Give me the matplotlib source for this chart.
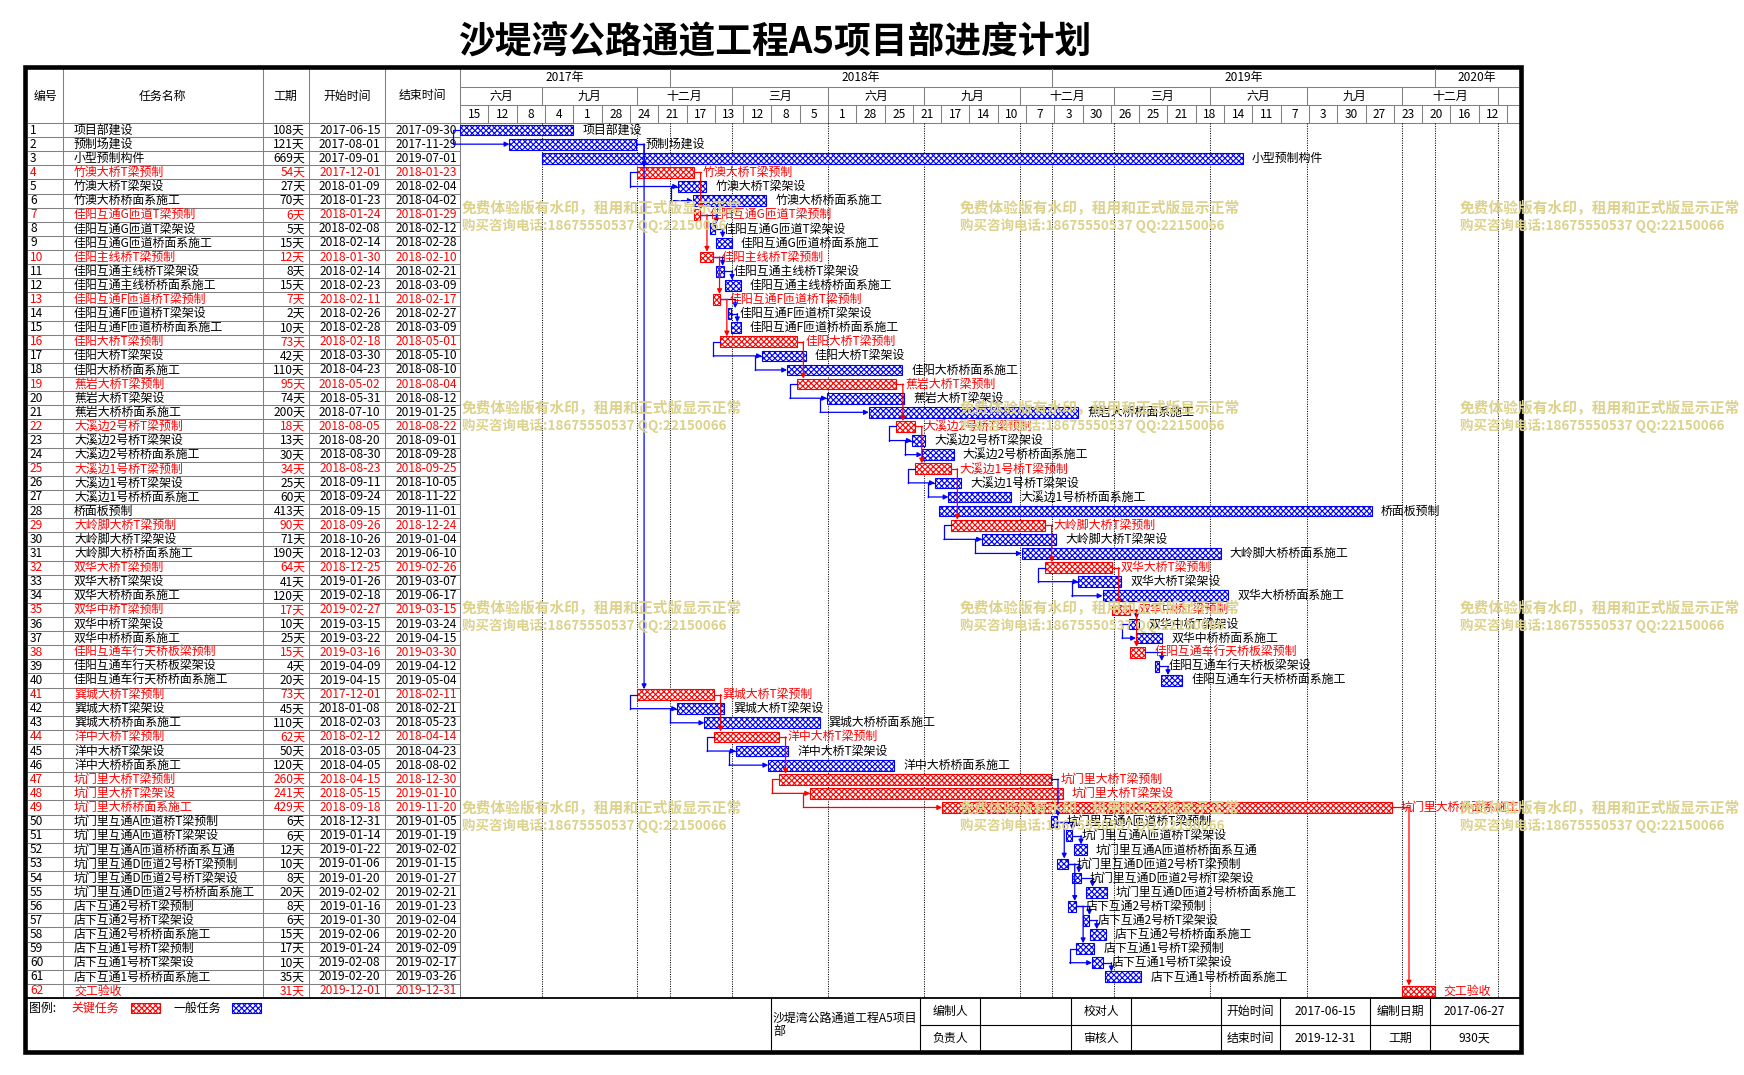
import datetime as dt
import matplotlib
matplotlib.use("Agg")
import matplotlib.pyplot as plt
import matplotlib.dates as mdates
from matplotlib.patches import Rectangle

plt.rcParams['font.family'] = ['Noto Sans CJK SC', 'DejaVu Sans']
plt.rcParams['hatch.linewidth'] = 0.8

# ---------------- data ----------------
TITLE = "沙堤湾公路通道工程A5项目部进度计划"
HEADERS = ["编号", "任务名称", "工期", "开始时间", "结束时间"]

NAMES = [
    "项目部建设", "预制场建设", "小型预制构件", "竹澳大桥T梁预制", "竹澳大桥T梁架设",
    "竹澳大桥桥面系施工", "佳阳互通G匝道T梁预制", "佳阳互通G匝道T梁架设", "佳阳互通G匝道桥面系施工",
    "佳阳主线桥T梁预制", "佳阳互通主线桥T梁架设", "佳阳互通主线桥桥面系施工", "佳阳互通F匝道桥T梁预制",
    "佳阳互通F匝道桥T梁架设", "佳阳互通F匝道桥桥面系施工", "佳阳大桥T梁预制", "佳阳大桥T梁架设",
    "佳阳大桥桥面系施工", "蕉岩大桥T梁预制", "蕉岩大桥T梁架设", "蕉岩大桥桥面系施工",
    "大溪边2号桥T梁预制", "大溪边2号桥T梁架设", "大溪边2号桥桥面系施工", "大溪边1号桥T梁预制",
    "大溪边1号桥T梁架设", "大溪边1号桥桥面系施工", "桥面板预制", "大岭脚大桥T梁预制",
    "大岭脚大桥T梁架设", "大岭脚大桥桥面系施工", "双华大桥T梁预制", "双华大桥T梁架设",
    "双华大桥桥面系施工", "双华中桥T梁预制", "双华中桥T梁架设", "双华中桥桥面系施工",
    "佳阳互通车行天桥板梁预制", "佳阳互通车行天桥板梁架设", "佳阳互通车行天桥桥面系施工",
    "巽城大桥T梁预制", "巽城大桥T梁架设", "巽城大桥桥面系施工", "洋中大桥T梁预制",
    "洋中大桥T梁架设", "洋中大桥桥面系施工", "坑门里大桥T梁预制", "坑门里大桥T梁架设",
    "坑门里大桥桥面系施工", "坑门里互通A匝道桥T梁预制", "坑门里互通A匝道桥T梁架设",
    "坑门里互通A匝道桥桥面系互通", "坑门里互通D匝道2号桥T梁预制", "坑门里互通D匝道2号桥T梁架设",
    "坑门里互通D匝道2号桥桥面系施工", "店下互通2号桥T梁预制", "店下互通2号桥T梁架设",
    "店下互通2号桥桥面系施工", "店下互通1号桥T梁预制", "店下互通1号桥T梁架设",
    "店下互通1号桥桥面系施工", "交工验收",
]
DURATIONS = [108, 121, 669, 54, 27, 70, 6, 5, 15, 12, 8, 15, 7, 2, 10, 73, 42, 110, 95, 74,
             200, 18, 13, 30, 34, 25, 60, 413, 90, 71, 190, 64, 41, 120, 17, 10, 25, 15, 4, 20,
             73, 45, 110, 62, 50, 120, 260, 241, 429, 6, 6, 12, 10, 8, 20, 8, 6, 15, 17, 10, 35, 31]
STARTS = [
    "2017-06-15", "2017-08-01", "2017-09-01", "2017-12-01", "2018-01-09", "2018-01-23",
    "2018-01-24", "2018-02-08", "2018-02-14", "2018-01-30", "2018-02-14", "2018-02-23",
    "2018-02-11", "2018-02-26", "2018-02-28", "2018-02-18", "2018-03-30", "2018-04-23",
    "2018-05-02", "2018-05-31", "2018-07-10", "2018-08-05", "2018-08-20", "2018-08-30",
    "2018-08-23", "2018-09-11", "2018-09-24", "2018-09-15", "2018-09-26", "2018-10-26",
    "2018-12-03", "2018-12-25", "2019-01-26", "2019-02-18", "2019-02-27", "2019-03-15",
    "2019-03-22", "2019-03-16", "2019-04-09", "2019-04-15", "2017-12-01", "2018-01-08",
    "2018-02-03", "2018-02-12", "2018-03-05", "2018-04-05", "2018-04-15", "2018-05-15",
    "2018-09-18", "2018-12-31", "2019-01-14", "2019-01-22", "2019-01-06", "2019-01-20",
    "2019-02-02", "2019-01-16", "2019-01-30", "2019-02-06", "2019-01-24", "2019-02-08",
    "2019-02-20", "2019-12-01",
]
ENDS = [
    "2017-09-30", "2017-11-29", "2019-07-01", "2018-01-23", "2018-02-04", "2018-04-02",
    "2018-01-29", "2018-02-12", "2018-02-28", "2018-02-10", "2018-02-21", "2018-03-09",
    "2018-02-17", "2018-02-27", "2018-03-09", "2018-05-01", "2018-05-10", "2018-08-10",
    "2018-08-04", "2018-08-12", "2019-01-25", "2018-08-22", "2018-09-01", "2018-09-28",
    "2018-09-25", "2018-10-05", "2018-11-22", "2019-11-01", "2018-12-24", "2019-01-04",
    "2019-06-10", "2019-02-26", "2019-03-07", "2019-06-17", "2019-03-15", "2019-03-24",
    "2019-04-15", "2019-03-30", "2019-04-12", "2019-05-04", "2018-02-11", "2018-02-21",
    "2018-05-23", "2018-04-14", "2018-04-23", "2018-08-02", "2018-12-30", "2019-01-10",
    "2019-11-20", "2019-01-05", "2019-01-19", "2019-02-02", "2019-01-15", "2019-01-27",
    "2019-02-21", "2019-01-23", "2019-02-04", "2019-02-20", "2019-02-09", "2019-02-17",
    "2019-03-26", "2019-12-31",
]
CRITICAL = [4, 7, 10, 13, 16, 19, 22, 25, 29, 32, 35, 38, 41, 44, 47, 48, 49, 62]

LINKS = [
    (1, 2, 'SS'), (2, 4, 'FS'), (2, 41, 'FS'),
    (4, 5, 'SS'), (5, 6, 'SS'), (4, 7, 'FS'),
    (7, 8, 'FS'), (8, 9, 'FS'), (7, 10, 'FS'),
    (10, 11, 'FS'), (11, 12, 'FS'), (10, 13, 'FS'),
    (13, 14, 'FS'), (14, 15, 'FS'), (13, 16, 'FS'),
    (16, 17, 'SS'), (17, 18, 'SS'), (16, 19, 'FS'),
    (19, 20, 'SS'), (20, 21, 'SS'), (19, 22, 'FS'),
    (22, 23, 'SS'), (23, 24, 'SS'), (22, 25, 'FS'),
    (25, 26, 'SS'), (26, 27, 'SS'), (25, 29, 'FS'),
    (29, 30, 'SS'), (30, 31, 'SS'), (29, 32, 'FS'),
    (32, 33, 'SS'), (33, 34, 'SS'), (32, 35, 'FS'),
    (35, 36, 'FS'), (36, 37, 'SS'), (35, 38, 'FS'),
    (38, 39, 'FS'), (39, 40, 'FS'),
    (41, 42, 'SS'), (42, 43, 'SS'), (41, 44, 'FS'),
    (44, 45, 'SS'), (45, 46, 'SS'), (44, 47, 'FS'),
    (47, 48, 'SS'), (48, 49, 'SS'), (47, 50, 'FS'),
    (50, 51, 'FS'), (51, 52, 'FS'), (50, 53, 'FS'),
    (53, 54, 'FS'), (54, 55, 'FS'), (53, 56, 'FS'),
    (56, 57, 'FS'), (57, 58, 'FS'), (56, 59, 'FS'),
    (59, 60, 'SS'), (60, 61, 'FS'),
    (49, 62, 'FS'),
]

YEAR_LABELS = ["2017年", "2018年", "2019年", "2020年"]
YEAR_STARTS = ["2017-06-15", "2018-01-01", "2019-01-01", "2020-01-01"]
QUARTER_LABELS = ["六月", "九月", "十二月", "三月", "六月", "九月", "十二月",
                  "三月", "六月", "九月", "十二月", ""]
QUARTER_STARTS = ["2017-06-15", "2017-09-01", "2017-12-01", "2018-03-01", "2018-06-01",
                  "2018-09-01", "2018-12-01", "2019-03-01", "2019-06-01", "2019-09-01",
                  "2019-12-01", "2020-03-01"]
WEEK_LABELS = ["15", "12", "8", "4", "1", "28", "24", "21", "17", "13", "12", "8", "5",
               "1", "28", "25", "21", "17", "14", "10", "7", "3", "30", "26", "25", "21",
               "18", "14", "11", "7", "3", "30", "27", "23", "20", "16", "12"]
WEEK_FIRST = "2017-06-15"
WEEK_DAYS = 27
AXIS_START = "2017-06-15"
AXIS_END = "2020-03-21"

LEGEND = ["图例:", "关键任务", "一般任务"]
FOOTER_TITLE = "沙堤湾公路通道工程A5项目\n部"
FOOTER_ROW1 = ["编制人", "", "校对人", "", "开始时间", "2017-06-15", "编制日期", "2017-06-27"]
FOOTER_ROW2 = ["负责人", "", "审核人", "", "结束时间", "2019-12-31", "工期", "930天"]
WATERMARK_1 = "免费体验版有水印，租用和正式版显示正常"
WATERMARK_2 = "购买咨询电话:18675550537 QQ:22150066"

# ---------------- layout (pixels) ----------------
W, H = 1744, 1075
FRAME = (25.25, 66.5, 1521.0, 1051.8)
TL_X0, TL_X1 = 460.2, 1518.5
HDR_T, HDR_B = 69.0, 123.0
BODY_B = 998.0
COLS = [27.5, 62.5, 262.5, 308.7, 385.0, TL_X0]
FOOT_COLS = [771, 920, 980, 1071, 1131, 1221, 1280, 1370, 1430, 1519]
FS = 8.6
GRID = '#808080'
RED, BLUE = '#FF0000', '#0000FF'
NROW = len(NAMES)
ROWH = (BODY_B - HDR_B) / NROW


def num(s):
    return mdates.date2num(dt.datetime.strptime(s, "%Y-%m-%d"))


def rect_px(x0, y0, x1, y1):
    return [x0 / W, 1 - y1 / H, (x1 - x0) / W, (y1 - y0) / H]


fig = plt.figure(figsize=(W / 100, H / 100), dpi=100)

# background canvas in pixel coordinates
bg = fig.add_axes([0, 0, 1, 1])
bg.set_xlim(0, W)
bg.set_ylim(H, 0)
bg.axis('off')

bg.text((FRAME[0] + FRAME[2]) / 2 + 2, 42, TITLE, ha='center', va='center',
        fontsize=26.5, fontweight='bold', color='black')

# table grid
for i in range(NROW + 1):
    y = HDR_B + i * ROWH
    bg.plot([COLS[0], COLS[-1]], [y, y], color=GRID, lw=0.75)
bg.plot([TL_X0, TL_X1], [HDR_B, HDR_B], color=GRID, lw=0.75)
for x in COLS[1:]:
    bg.plot([x, x], [HDR_T, BODY_B], color=GRID, lw=0.75)
hdr_cy = (HDR_T + HDR_B) / 2
for k, h in enumerate(HEADERS):
    bg.text((COLS[k] + COLS[k + 1]) / 2, hdr_cy, h, ha='center', va='center', fontsize=FS)

crit = set(CRITICAL)
for i in range(NROW):
    cy = HDR_B + (i + 0.5) * ROWH
    c = RED if (i + 1) in crit else 'black'
    bg.text(COLS[0] + 2.5, cy, str(i + 1), ha='left', va='center', fontsize=FS, color=c)
    bg.text(COLS[1] + 11.5, cy, NAMES[i], ha='left', va='center', fontsize=FS, color=c)
    bg.text(COLS[3] - 3.5, cy, f"{DURATIONS[i]}天", ha='right', va='center', fontsize=FS, color=c)
    bg.text((COLS[3] + COLS[4]) / 2 + 3, cy, STARTS[i], ha='center', va='center', fontsize=FS, color=c)
    bg.text((COLS[4] + COLS[5]) / 2 + 4, cy, ENDS[i], ha='center', va='center', fontsize=FS, color=c)

# legend / footer
bg.plot([FRAME[0], FRAME[2]], [BODY_B, BODY_B], color='black', lw=1.3)
leg_y = 1008
bg.text(29, leg_y, LEGEND[0], ha='left', va='center', fontsize=FS)
bg.text(71, leg_y, LEGEND[1], ha='left', va='center', fontsize=FS, color=RED)
bg.add_patch(Rectangle((131, 1003), 29, 10, facecolor='white', edgecolor=RED, hatch='xxxxxx', lw=0.8))
bg.text(173, leg_y, LEGEND[2], ha='left', va='center', fontsize=FS)
bg.add_patch(Rectangle((232, 1003), 29, 10, facecolor='white', edgecolor=BLUE, hatch='xxxxxx', lw=0.8))

FOOT_MID = 1024.5
for x in FOOT_COLS[:-1]:
    bg.plot([x, x], [BODY_B, FRAME[3]], color='black', lw=0.8)
bg.plot([FOOT_COLS[1], FOOT_COLS[-1]], [FOOT_MID, FOOT_MID], color='black', lw=0.8)
bg.text(FOOT_COLS[0] + 2, (BODY_B + FRAME[3]) / 2, FOOTER_TITLE, ha='left', va='center',
        fontsize=FS, linespacing=1.05)
for k in range(len(FOOTER_ROW1)):
    cx = (FOOT_COLS[k + 1] + FOOT_COLS[k + 2]) / 2
    bg.text(cx, (BODY_B + FOOT_MID) / 2, FOOTER_ROW1[k], ha='center', va='center', fontsize=FS)
    bg.text(cx, (FOOT_MID + FRAME[3]) / 2, FOOTER_ROW2[k], ha='center', va='center', fontsize=FS)

bg.add_patch(Rectangle((FRAME[0], FRAME[1]), FRAME[2] - FRAME[0], FRAME[3] - FRAME[1],
                       fill=False, edgecolor='black', lw=3.3, zorder=10))

# ---------------- timeline header ----------------
x0n, x1n = num(AXIS_START), num(AXIS_END)
axh = fig.add_axes(rect_px(TL_X0, HDR_T, TL_X1, HDR_B))
axh.set_xlim(x0n, x1n)
axh.set_ylim(3, 0)
axh.axis('off')
axh.patch.set_visible(False)

yb = [num(d) for d in YEAR_STARTS] + [x1n]
for i, lab in enumerate(YEAR_LABELS):
    axh.text((yb[i] + yb[i + 1]) / 2, 0.5, lab, ha='center', va='center', fontsize=FS)
    if i > 0:
        axh.plot([yb[i], yb[i]], [0, 1], color=GRID, lw=0.75)
qb = [num(d) for d in QUARTER_STARTS] + [x1n]
for i, lab in enumerate(QUARTER_LABELS):
    axh.text((qb[i] + qb[i + 1]) / 2, 1.5, lab, ha='center', va='center', fontsize=FS)
    if i > 0:
        axh.plot([qb[i], qb[i]], [1, 2], color=GRID, lw=0.75)
w0 = num(WEEK_FIRST)
for i, lab in enumerate(WEEK_LABELS):
    a = w0 + i * WEEK_DAYS
    axh.text(a + WEEK_DAYS / 2, 2.5, lab, ha='center', va='center', fontsize=FS)
    axh.plot([a + WEEK_DAYS, a + WEEK_DAYS], [2, 3], color=GRID, lw=0.75)
axh.plot([x0n, x1n], [1, 1], color=GRID, lw=0.75)
axh.plot([x0n, x1n], [2, 2], color=GRID, lw=0.75)

# ---------------- gantt body ----------------
ax = fig.add_axes(rect_px(TL_X0, HDR_B, TL_X1, BODY_B))
ax.set_xlim(x0n, x1n)
ax.set_ylim(NROW, 0)
ax.axis('off')
ax.patch.set_visible(False)

for d in sorted(set(QUARTER_STARTS[1:] + YEAR_STARTS[1:])):
    ax.plot([num(d), num(d)], [0, NROW], color='black', lw=0.75, linestyle=(0, (1, 1.3)), zorder=1)

s_num = [num(s) for s in STARTS]
e_num = [num(e) + 1 for e in ENDS]
px_per_day = (TL_X1 - TL_X0) / (x1n - x0n)
OFF = 6.8 / px_per_day
BAR_H = 0.76

for crit_flag, col in ((False, BLUE), (True, RED)):
    idx = [i for i in range(NROW) if ((i + 1) in crit) == crit_flag]
    ax.barh([i + 0.5 for i in idx], [e_num[i] - s_num[i] for i in idx],
            left=[s_num[i] for i in idx], height=BAR_H, facecolor='white',
            edgecolor=col, hatch='xxxxxx', lw=0.8, zorder=3)

for i in range(NROW):
    c = RED if (i + 1) in crit else 'black'
    ax.text(e_num[i] + 9 / px_per_day, i + 0.5, NAMES[i], ha='left', va='center',
            fontsize=FS, color=c, zorder=5)

AP = dict(arrowstyle='-|>', lw=0.9, mutation_scale=7, shrinkA=0, shrinkB=0)
for p, s, kind in LINKS:
    pi, si = p - 1, s - 1
    col = RED if (p in crit and s in crit) else BLUE
    yp, ys = pi + 0.5, si + 0.5
    if kind == 'FS':
        xv = max(e_num[pi], s_num[si]) + OFF
        ax.plot([e_num[pi], xv], [yp, yp], color=col, lw=0.9, zorder=4, clip_on=False)
        ax.annotate('', xy=(xv, ys - BAR_H / 2), xytext=(xv, yp),
                    arrowprops=dict(AP, color=col), zorder=4, annotation_clip=False)
    else:
        xv = s_num[pi] - OFF
        ax.plot([s_num[pi], xv, xv], [yp, yp, ys], color=col, lw=0.9, zorder=4, clip_on=False)
        ax.annotate('', xy=(s_num[si], ys), xytext=(xv, ys),
                    arrowprops=dict(AP, color=col), zorder=4, annotation_clip=False)

# ---------------- watermark ----------------
for wx in (461.5, 960, 1460):
    for wy in (208, 408, 608, 808):
        fig.text(wx / W, 1 - wy / H, WATERMARK_1, ha='left', va='center', fontsize=10.6,
                 fontweight='bold', color='#DCD28C', zorder=20)
        fig.text(wx / W, 1 - (wy + 18) / H, WATERMARK_2, ha='left', va='center', fontsize=9.7,
                 fontweight='bold', color='#DCD28C', zorder=20)

fig.savefig("out.png", dpi=100)
